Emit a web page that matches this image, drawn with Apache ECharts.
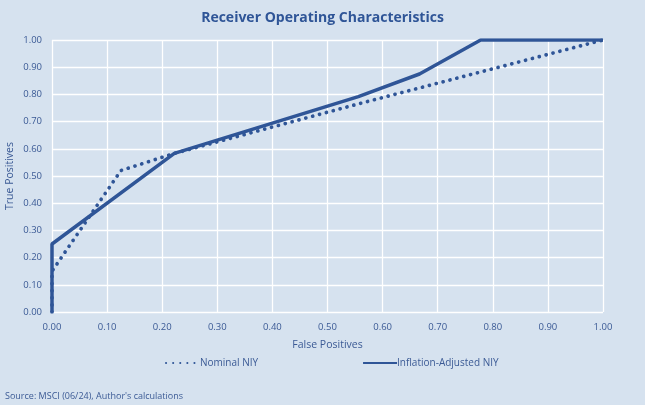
<!DOCTYPE html>
<html>
<head>
<meta charset="utf-8">
<script src="https://cdn.jsdelivr.net/npm/echarts@6/dist/echarts.min.js"></script>
<style>
html,body{margin:0;padding:0;background:#D6E2EF;}
#c{width:645px;height:405px;}
</style>
</head>
<body>
<div id="c"></div>
<script>
var titleText = 'Receiver Operating Characteristics';
var sourceText = "Source: MSCI (06/24), Author's calculations";
var seriesNames = ['Nominal NIY', 'Inflation-Adjusted NIY'];
var nominalX = [0, 0, 0.125, 0.222, 0.556, 1.0];
var nominalY = [0, 0.15, 0.52, 0.583, 0.765, 1.0];
var inflX = [0, 0, 0.222, 0.556, 0.667, 0.778, 1.0];
var inflY = [0, 0.25, 0.583, 0.792, 0.875, 1.0, 1.0];

function pairs(xs, ys){ return xs.map(function(x,i){return [x, ys[i]];}); }

var blue = '#2F5597';
var labelColor = '#3B5A95';
var font = 'Open Sans';
var chart = echarts.init(document.getElementById('c'));
chart.setOption({
  backgroundColor: '#D6E2EF',
  animation: false,
  title: {
    text: titleText, left: 'center', top: 6,
    textStyle: {color: blue, fontSize: 14, fontWeight: 'bold', fontFamily: font}
  },
  grid: {left: 52, right: 42, top: 40, bottom: 93, containLabel: false, outerBoundsMode: 'none'},
  legend: {
    bottom: 32, left: 160, itemGap: 104, itemWidth: 34, itemHeight: 8,
    textStyle: {color: labelColor, fontSize: 10, fontFamily: font, padding: [0,0,0,-5]},
    itemStyle: {color: 'transparent', borderWidth: 0, opacity: 0},
    data: seriesNames
  },
  graphic: [{
    type: 'text', left: 5, top: 392,
    style: {text: sourceText, fill: labelColor, fontSize: 9, fontFamily: font}
  }],
  xAxis: {
    type: 'value', min: 0, max: 1, interval: 0.1,
    name: 'False Positives', nameLocation: 'middle', nameGap: 28,
    nameTextStyle: {color: labelColor, fontSize: 10.5, fontFamily: font},
    axisLine: {show: false}, axisTick: {show: false},
    axisLabel: {color: labelColor, fontSize: 9.5, fontFamily: font, margin: 10,
      formatter: function(v){return v.toFixed(2);}},
    splitLine: {lineStyle: {color: '#FFFFFF', width: 1.3}}
  },
  yAxis: {
    type: 'value', min: 0, max: 1, interval: 0.1,
    name: 'True Positives', nameLocation: 'middle', nameGap: 36, nameMoveOverlap: false,
    nameTextStyle: {color: labelColor, fontSize: 10.5, fontFamily: font},
    axisLine: {show: false}, axisTick: {show: false},
    axisLabel: {color: labelColor, fontSize: 9.5, fontFamily: font, margin: 10,
      formatter: function(v){return v.toFixed(2);}},
    splitLine: {lineStyle: {color: '#FFFFFF', width: 1.3}}
  },
  series: [{
    name: seriesNames[0], type: 'line', showSymbol: false, symbol: 'none',
    data: pairs(nominalX, nominalY),
    lineStyle: {color: blue, width: 3.7, type: [0.1, 7], cap: 'round'},
    itemStyle: {color: blue}
  }, {
    name: seriesNames[1], type: 'line', showSymbol: false, symbol: 'none',
    data: pairs(inflX, inflY),
    lineStyle: {color: blue, width: 3.5},
    itemStyle: {color: blue}
  }]
});
</script>
</body>
</html>
